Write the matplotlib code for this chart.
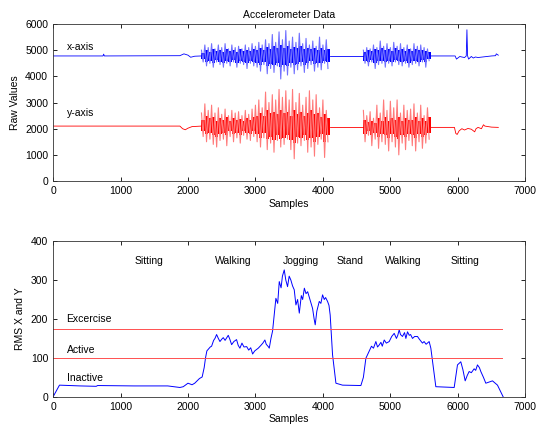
import matplotlib.pyplot as plt
import numpy as np

plt.rcParams['font.family'] = ['Liberation Sans', 'DejaVu Sans']
plt.rcParams['font.size'] = 7.5

# ---- raw accelerometer data ----
# quiet stretches: (sample, value)
x_quiet1_s = [0, 740, 750, 760, 1880, 1940, 2000, 2040, 2100, 2200]
x_quiet1_v = [4780, 4780, 4850, 4780, 4790, 4860, 4810, 4730, 4770, 4780]
y_quiet1_s = [0, 1880, 1920, 1960, 2000, 2060, 2200]
y_quiet1_v = [2100, 2100, 2000, 1960, 2020, 2080, 2100]

x_quiet2_s = [4100, 4600]
x_quiet2_v = [4780, 4780]
y_quiet2_s = [4100, 4600]
y_quiet2_v = [2060, 2060]

x_quiet3_s = [5600, 5960, 5980, 6000, 6030, 6060, 6100, 6125, 6135, 6145, 6160, 6200, 6230, 6260, 6300, 6400, 6500, 6560, 6570, 6600]
x_quiet3_v = [4780, 4780, 4660, 4700, 4760, 4740, 4720, 4780, 5780, 4780, 4660, 4760, 4700, 4740, 4720, 4750, 4780, 4790, 4860, 4810]
y_quiet3_s = [5600, 5950, 5970, 5990, 6020, 6060, 6100, 6150, 6200, 6250, 6270, 6300, 6350, 6380, 6400, 6500, 6600]
y_quiet3_v = [2050, 2050, 1820, 1780, 1920, 2000, 1950, 2010, 1980, 1880, 2000, 2050, 2000, 2150, 2100, 2060, 2050]

# busy stretches: spike peak / trough and dense core every 50 samples
walk1_start = 2200
x_walk1_hi = [5000, 5200, 5100, 5250, 5050, 5200, 5100, 5250, 5050, 5200, 5100, 5150, 5050, 5200, 5100, 5250, 5150, 5300, 5200,
              5400, 5250, 5600, 5300, 5700, 5400, 5750, 5350, 5500, 5300, 5650, 5250, 5450, 5200, 5350, 5150, 5500, 5200, 5400]
x_walk1_lo = [4550, 4400, 4500, 4350, 4550, 4450, 4350, 4500, 4400, 4550, 4350, 4500, 4450, 4300, 4500, 4400, 4350, 4200, 4450,
              4100, 4300, 4150, 4400, 3900, 4200, 4050, 4350, 4100, 4250, 4400, 4150, 4300, 4450, 4200, 4350, 4250, 4500, 4300]
x_walk1_chi = [4900, 5000, 4950, 5050, 4980, 5020, 4950, 5050, 4980, 5000, 4950, 5030, 4970, 5000, 4960, 5050, 5000, 5080, 5020,
               5120, 5050, 5150, 5080, 5200, 5100, 5150, 5050, 5120, 5080, 5150, 5050, 5100, 5030, 5080, 5000, 5100, 5020, 5050]
x_walk1_clo = [4650, 4550, 4600, 4520, 4620, 4560, 4500, 4600, 4550, 4620, 4520, 4580, 4560, 4500, 4580, 4540, 4500, 4420, 4550,
               4400, 4480, 4420, 4520, 4350, 4450, 4400, 4500, 4420, 4480, 4550, 4450, 4500, 4580, 4480, 4520, 4500, 4600, 4550]
y_walk1_hi = [2600, 2950, 2700, 2900, 2600, 2800, 2550, 2750, 2500, 2700, 2600, 2650, 2500, 2700, 2550, 2750, 2900, 3100, 2800,
              3400, 3000, 3300, 3100, 3500, 3200, 3450, 3100, 3500, 3000, 3350, 2900, 3200, 3450, 3100, 3300, 2800, 3100, 2700]
y_walk1_lo = [1700, 1500, 1600, 1400, 1300, 1550, 1600, 1350, 1700, 1500, 1650, 1450, 1750, 1600, 1550, 1700, 1500, 1300, 1650,
              1200, 1450, 1100, 1550, 1300, 1400, 1600, 1200, 850, 1450, 1350, 1550, 1100, 1300, 950, 1400, 1600, 900, 1500]
y_walk1_chi = [2350, 2500, 2400, 2450, 2300, 2400, 2350, 2450, 2300, 2400, 2350, 2380, 2300, 2420, 2350, 2450, 2500, 2600, 2500,
               2700, 2600, 2650, 2550, 2700, 2600, 2650, 2500, 2700, 2550, 2650, 2500, 2600, 2700, 2550, 2600, 2450, 2550, 2400]
y_walk1_clo = [1900, 1800, 1850, 1750, 1700, 1800, 1850, 1750, 1900, 1800, 1850, 1750, 1900, 1850, 1800, 1900, 1800, 1650, 1850,
               1600, 1700, 1550, 1750, 1600, 1650, 1750, 1550, 1450, 1700, 1650, 1750, 1550, 1650, 1500, 1700, 1800, 1500, 1750]

walk2_start = 4600
x_walk2_hi = [5000, 5100, 5050, 5200, 5100, 5350, 5150, 5250, 5100, 5300, 5150, 5250, 5100, 5200, 5050, 5250, 5150, 5200, 5100, 5050]
x_walk2_lo = [4500, 4400, 4550, 4300, 4450, 4500, 4350, 4500, 4400, 4550, 4450, 4400, 4500, 4350, 4450, 4500, 4400, 4550, 4350, 4600]
x_walk2_chi = [4950, 5000, 4980, 5050, 5000, 5100, 5020, 5050, 4980, 5080, 5000, 5050, 4980, 5030, 4960, 5050, 5000, 5020, 4980, 4950]
x_walk2_clo = [4600, 4550, 4620, 4500, 4580, 4600, 4530, 4600, 4560, 4620, 4580, 4550, 4600, 4520, 4580, 4600, 4560, 4620, 4530, 4650]
y_walk2_hi = [2700, 2500, 2650, 2400, 2900, 2600, 3100, 2700, 3050, 2800, 3100, 2600, 2900, 2700, 2750, 2950, 2600, 2900, 2500, 2800]
y_walk2_lo = [1500, 1750, 1350, 1600, 1250, 1500, 1400, 1150, 1500, 1300, 1000, 1450, 1200, 1550, 1350, 1150, 1500, 1250, 1450, 1600]
y_walk2_chi = [2350, 2250, 2300, 2200, 2400, 2300, 2450, 2300, 2400, 2350, 2450, 2300, 2400, 2350, 2350, 2450, 2300, 2400, 2300, 2450]
y_walk2_clo = [1800, 1900, 1750, 1850, 1700, 1800, 1750, 1650, 1800, 1700, 1600, 1750, 1700, 1800, 1750, 1650, 1800, 1700, 1750, 1850]

# ---- RMS of X and Y ----
rms_s = [0, 95, 400, 640, 660, 1200, 1700, 1880, 1930, 2000, 2030, 2060, 2100, 2170, 2210, 2240, 2260, 2280, 2300, 2330, 2350,
         2380, 2400, 2424, 2450, 2474, 2500, 2523, 2550, 2597, 2620, 2647, 2680, 2720, 2745, 2770, 2800, 2830, 2870, 2900, 2930,
         2958, 2990, 3042, 3080, 3110, 3140, 3160, 3190, 3205, 3230, 3254, 3280, 3303, 3330, 3353, 3380, 3400, 3427, 3450, 3476,
         3500, 3525, 3550, 3575, 3600, 3625, 3650, 3680, 3700, 3725, 3750, 3774, 3800, 3847, 3870, 3886, 3910, 3946, 3970, 3995,
         4020, 4040, 4069, 4090, 4108, 4143, 4193, 4291, 4563, 4600, 4637, 4686, 4720, 4750, 4785, 4810, 4834, 4860, 4880, 4909,
         4940, 4983, 5020, 5057, 5090, 5110, 5131, 5150, 5180, 5210, 5230, 5254, 5280, 5300, 5328, 5360, 5402, 5430, 5476, 5500,
         5530, 5575, 5600, 5674, 5946, 5995, 6044, 6075, 6109, 6140, 6168, 6200, 6242, 6265, 6291, 6320, 6341, 6380, 6415, 6514,
         6588, 6672]
rms_v = [0, 30, 28, 27, 29, 28, 28, 24, 26, 35, 33, 31, 35, 47, 51, 75, 100, 118, 122, 128, 130,
         145, 150, 160, 150, 142, 148, 152, 145, 158, 148, 134, 142, 147, 132, 125, 138, 128, 129, 120, 126,
         110, 118, 125, 132, 138, 146, 135, 129, 125, 150, 169, 215, 253, 240, 296, 280, 310, 326, 300, 283,
         310, 300, 285, 275, 236, 250, 215, 260, 250, 279, 265, 270, 255, 227, 200, 185, 220, 245, 240, 262,
         250, 255, 245, 235, 210, 108, 35, 30, 29, 50, 99, 117, 130, 125, 142, 128, 133, 140, 130, 146,
         138, 142, 155, 163, 150, 158, 172, 160, 155, 165, 150, 167, 158, 160, 150, 155, 155, 148, 138, 142,
         135, 142, 125, 26, 24, 82, 90, 70, 41, 55, 65, 62, 72, 68, 82, 75, 65, 50, 35, 41,
         30, 0]

thresholds = [175, 100]
threshold_labels = ['Excercise', 'Active', 'Inactive']
threshold_label_y = [200, 120, 48]
activities = ['Sitting', 'Walking', 'Jogging', 'Stand', 'Walking', 'Sitting']
activity_x = [1420, 2670, 3670, 4400, 5190, 6100]

STEP = 50


def zigzag(start, hi, lo, step=STEP):
    xs, ys = [], []
    for i, (h, l) in enumerate(zip(hi, lo)):
        s = start + i * step
        xs += [s, s + step / 2]
        ys += [h, l]
    return xs, ys


def draw_busy(ax, start, hi, lo, chi, clo, dark, light):
    zs, zv = zigzag(start, hi, lo)
    ax.plot(zs, zv, color=light, lw=0.8)
    bins = start + STEP * np.arange(len(chi) + 1)
    ax.fill_between(bins, list(clo) + [clo[-1]], list(chi) + [chi[-1]], step='post', color=dark, lw=0)


fig = plt.figure(figsize=(5.36, 4.29), dpi=100)
ax1 = fig.add_axes([0.099, 0.578, 0.881, 0.366])
ax2 = fig.add_axes([0.099, 0.075, 0.881, 0.363])

for ax in (ax1, ax2):
    ax.tick_params(direction='in', top=True, right=True, length=3, width=0.6, labelsize=7.5)
    for sp in ax.spines.values():
        sp.set_linewidth(0.6)
        sp.set_color('#333333')
    ax.set_xlim(0, 7000)
    ax.set_xticks(np.arange(0, 7001, 1000))
    ax.set_xlabel('Samples', fontsize=7.5, labelpad=2)

blue, light_blue = '#0000ff', '#7070ff'
red, light_red = '#ff0000', '#ff7a7a'

draw_busy(ax1, walk1_start, x_walk1_hi, x_walk1_lo, x_walk1_chi, x_walk1_clo, blue, light_blue)
draw_busy(ax1, walk2_start, x_walk2_hi, x_walk2_lo, x_walk2_chi, x_walk2_clo, blue, light_blue)
draw_busy(ax1, walk1_start, y_walk1_hi, y_walk1_lo, y_walk1_chi, y_walk1_clo, red, light_red)
draw_busy(ax1, walk2_start, y_walk2_hi, y_walk2_lo, y_walk2_chi, y_walk2_clo, red, light_red)
for qs, qv in [(x_quiet1_s, x_quiet1_v), (x_quiet2_s, x_quiet2_v), (x_quiet3_s, x_quiet3_v)]:
    ax1.plot(qs, qv, color=blue, lw=0.6)
for qs, qv in [(y_quiet1_s, y_quiet1_v), (y_quiet2_s, y_quiet2_v), (y_quiet3_s, y_quiet3_v)]:
    ax1.plot(qs, qv, color=red, lw=0.6)

ax1.set_ylim(0, 6000)
ax1.set_yticks(np.arange(0, 6001, 1000))
ax1.set_ylabel('Raw Values', fontsize=7.5, labelpad=4)
ax1.set_title('Accelerometer Data', fontsize=7.5, pad=4)
ax1.text(200, 4950, 'x-axis', fontsize=7.5, va='bottom')
ax1.text(200, 2400, 'y-axis', fontsize=7.5, va='bottom')

ax2.plot(rms_s, rms_v, color=blue, lw=0.7)
for t in thresholds:
    ax2.plot([0, 6650], [t, t], color='#ff5050', lw=0.7)
for lbl, yy in zip(threshold_labels, threshold_label_y):
    ax2.text(200, yy, lbl, fontsize=7.5, va='center')
for lbl, xx in zip(activities, activity_x):
    ax2.text(xx, 349, lbl, fontsize=7.5, ha='center', va='center')
ax2.set_ylim(0, 400)
ax2.set_yticks(np.arange(0, 401, 100))
ax2.set_ylabel('RMS X and Y', fontsize=7.5, labelpad=4)

fig.savefig('out.png', dpi=100)
